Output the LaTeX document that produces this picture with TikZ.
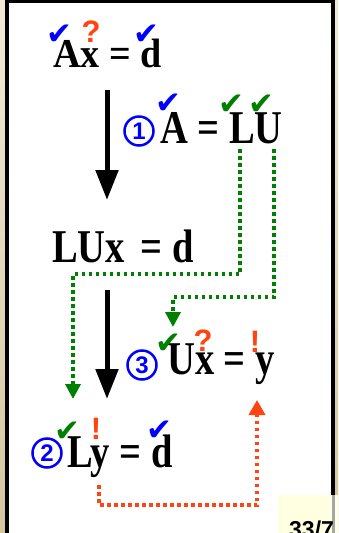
\documentclass[tikz,border=0pt]{standalone}
\usepackage{fontspec}
\usetikzlibrary{arrows.meta}
\newfontfamily\eqfont[FakeStretch=0.82]{Liberation Serif}
\newfontfamily\topfont[FakeStretch=0.93]{Liberation Serif}
\newfontfamily\marksans{Liberation Sans}
\newfontfamily\symfont{DejaVu Sans}
\definecolor{MarkBlue}{RGB}{0,0,255}
\definecolor{MarkGreen}{RGB}{0,128,0}
\definecolor{MarkRed}{RGB}{255,68,17}
\definecolor{PageBeige}{RGB}{240,233,214}
\definecolor{PageBeigeDark}{RGB}{214,198,158}
\definecolor{NoteYellow}{RGB}{255,255,226}
\tikzset{
  eq/.style={anchor=base west,inner sep=0pt,font=\eqfont\bfseries\fontsize{47}{50}\selectfont},
  eqtop/.style={anchor=base west,inner sep=0pt,font=\topfont\bfseries\fontsize{41}{44}\selectfont},
  chk/.style={inner sep=0pt,font=\symfont\fontsize{31}{31}\selectfont},
  warn/.style={inner sep=0pt,text=MarkRed,font=\marksans\bfseries\fontsize{31}{31}\selectfont},
  num/.style={circle,draw=MarkBlue,line width=2.5pt,text=MarkBlue,minimum size=29pt,inner sep=0pt,
    font=\marksans\bfseries\fontsize{24}{24}\selectfont},
}
\tikzset{stepline/.style={draw=black,line width=5pt,-{Triangle[width=22pt,length=30pt]}},
  dots/.style={line width=3.5pt,dash pattern=on 3.5pt off 3.5pt},
  lpath/.style={dots,draw=MarkGreen,-{Triangle[width=15pt,length=15pt]}},
  ypath/.style={dots,draw=MarkRed,-{Triangle[width=16pt,length=15pt]}},
  pageno/.style={anchor=base west,inner sep=0pt,font=\marksans\bfseries\fontsize{23}{23}\selectfont}}

\begin{document}
\begin{tikzpicture}[x=1pt,y=-1pt]
\clip (0,0) rectangle (338,533);
% page and frame
\shade[top color=PageBeige,bottom color=PageBeigeDark] (0,0) rectangle (338,533);
\fill[white] (9,3) rectangle (331,533);
\fill[black] (5,0) rectangle (9,533);
\fill[black] (5,0) rectangle (335,3);
\fill[black] (331,0) rectangle (335,496);
\fill[NoteYellow] (278,495) rectangle (338,533);
\fill[black!35] (332,495) rectangle (335,533);
\node[pageno] (pg) at (289,537) {33/7};

% equations
\node[eqtop] (axd) at (53,67) {Ax = d};
\node[eq] (alu) at (160,143) {A = LU};
\node[eq] (luxd) at (52,262) {LUx\hspace{6pt} = d};
\node[eq] (uxy) at (167,374) {Ux = y};
\node[eq] (lyd) at (67,467) {Ly = d};

\node[num] (n1) at (139,131) {1};
\node[num] (n2) at (47,453) {2};
\node[num] (n3) at (142,365) {3};

% marks
\node[chk,text=MarkBlue] (ckA) at (59,35) {✔};
\node[warn] (qx) at (91,32) {?};
\node[chk,text=MarkBlue] (ckd) at (146,35) {✔};
\node[chk,text=MarkBlue] (ckA2) at (168,104) {✔};
\node[chk,text=MarkGreen] (ckL) at (231,105) {✔};
\node[chk,text=MarkGreen] (ckU) at (261,105) {✔};
\node[chk,text=MarkGreen] (ckU2) at (168,344) {✔};
\node[warn] (qx2) at (203,341) {?};
\node[warn] (ey) at (255,342) {!};
\node[chk,text=MarkGreen] (ckL2) at (67,432) {✔};
\node[warn] (ey2) at (96,429) {!};
\node[chk,text=MarkBlue] (ckd2) at (159,431) {✔};

% steps
\coordinate (s1) at (107,90);
\coordinate (e1) at (107,200);
\coordinate (s2) at (107,290);
\coordinate (e2) at (107,399);
\draw[stepline] (s1) -- (e1);
\draw[stepline] (s2) -- (e2);

% where L, U and y go
\coordinate (lTop) at (240,149);
\coordinate (lEnd) at (73,399);
\coordinate (uTop) at (274,149);
\coordinate (uEnd) at (173,327);
\coordinate (yBot) at (99,485);
\coordinate (yEnd) at (257,400);
\draw[lpath] (lTop) -- ++(0,125) -| (lEnd);
\draw[lpath] (uTop) -- ++(0,148) -| (uEnd);
\draw[ypath] (yBot) -- ++(0,20) -| (yEnd);
\end{tikzpicture}
\end{document}
